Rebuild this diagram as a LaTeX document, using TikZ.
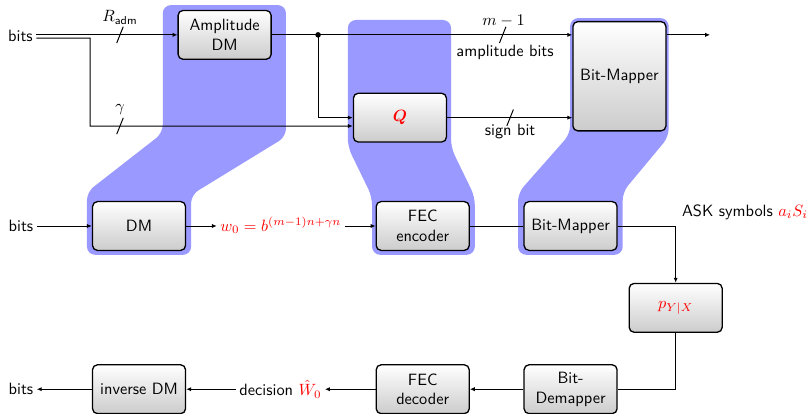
\documentclass[tikz,border=0pt]{standalone}
\usepackage{amsmath,amssymb}
\usepackage{bm}
\usepackage{tikz}
\usepackage{xcolor}
\usetikzlibrary{arrows.meta,positioning,calc}
\definecolor{lilac}{HTML}{9999FF}
\definecolor{boxgray}{HTML}{CCCCCC}
\definecolor{ink}{HTML}{000000}
\tikzset{
  block/.style={draw=ink,line width=0.8pt,rounded corners=3pt,
                top color=white,bottom color=boxgray,align=center,
                minimum width=2cm,minimum height=1.05cm,inner sep=2pt,
                font=\sffamily},
  tallblock/.style={block,minimum height=2.35cm},
  tag/.style={font=\sffamily,inner sep=2pt},
  sigarr/.style={-{Latex[length=3pt,width=2.6pt]},semithick,draw=ink},
  sigline/.style={semithick,draw=ink},
  groupfill/.style={fill=lilac,rounded corners=5pt},
  busmark/.pic={\draw[semithick,ink] (-2pt,-5pt) -- (2pt,5pt);}
}
\begin{document}
\begin{tikzpicture}
        \useasboundingbox (0,0) rectangle (17.44,8.90);
        \fill[groupfill] (3.50,8.79) -- (6.15,8.79) -- (6.15,5.96) -- (4.11,4.71)
          -- (4.11,3.42) -- (1.87,3.42) -- (1.87,4.77) -- (3.50,6.04) -- cycle;
        \fill[groupfill] (7.48,8.47) -- (9.70,8.47) -- (9.70,5.72) -- (10.21,4.67)
          -- (10.21,3.42) -- (8.00,3.42) -- (8.00,4.67) -- (7.48,5.74) -- cycle;
        \fill[groupfill] (12.26,8.51) -- (14.38,8.51) -- (14.38,5.96) -- (13.39,4.77)
          -- (13.39,3.42) -- (11.14,3.42) -- (11.14,4.75) -- (12.26,6.02) -- cycle;

        \node[block] (ampdm) at (4.83,8.15) {Amplitude\\DM};
        \node[block,text=red] (quant) at (8.60,6.37) {$\bm{Q}$};
        \node[tallblock] (maptop) at (13.32,7.26) {Bit-Mapper};
        \node[block] (dm) at (2.99,4.04) {DM};
        \node[block] (fecenc) at (9.09,4.04) {FEC\\encoder};
        \node[block] (mapbot) at (12.27,4.04) {Bit-Mapper};
        \node[block] (channel) at (14.53,2.28) {$\color{red}p_{Y|X}$};
        \node[block] (invdm) at (2.99,0.53) {inverse DM};
        \node[block] (fecdec) at (9.09,0.53) {FEC\\decoder};
        \node[block] (demap) at (12.27,0.53) {Bit-\\Demapper};

        \node[tag,anchor=east] (bitsin) at (0.78,8.12) {bits};
        \coordinate (split) at (1.94,8.08);
        \coordinate (branch) at (6.84,8.15);
        \coordinate (topout) at (15.27,8.15);
        \draw[sigarr] (bitsin.east |- ampdm.west) -- (ampdm.west);
        \draw[sigarr] ($(bitsin.east |- ampdm.west)+(0,-0.07)$) -- (split)
          |- ($(quant.west)+(0,-0.18)$);
        \draw[sigarr] (ampdm.east) -- (ampdm.east -| maptop.west);
        \draw[sigarr] (branch) |- (quant.west);
        \fill[ink] (branch) circle (1.7pt);
        \draw[sigarr] (quant.east) -- (quant.east -| maptop.west);
        \draw[sigarr] (maptop.east |- ampdm.east) -- (topout);

        \pic at (2.58,8.15) {busmark};
        \node[tag] (radm) at (2.58,8.52) {$R_{\textsf{adm}}$};
        \pic at (2.58,6.19) {busmark};
        \node[tag] (gammatag) at (2.58,6.54) {$\gamma$};
        \pic at (10.81,8.15) {busmark};
        \node[tag] (mtag) at (10.83,8.44) {$m-1$};
        \node[tag] (amptag) at (10.86,7.78) {amplitude bits};
        \pic at (10.97,6.37) {busmark};
        \node[tag] (signtag) at (10.97,6.08) {sign bit};

        \node[tag] (bitsmid) at (0.45,4.04) {bits};
        \node[tag,text=red] (wtag) at (6.04,4.06) {$w_0=b^{(m-1)n+\gamma n}$};
        \draw[sigarr] (bitsmid) -- (dm);
        \draw[sigarr] (dm.east) -- (dm.east -| wtag.west);
        \draw[sigarr] (wtag.east |- fecenc.west) -- (fecenc.west);
        \draw[sigline] (fecenc) -- (mapbot);
        \draw[sigarr] (mapbot.east) -| (channel.north);
        \node[tag,anchor=west] (asktag) at (14.59,4.34) {ASK symbols $\color{red}a_iS_i$};

        \draw[sigline] (channel.south) |- (demap.east);
        \draw[sigarr] (demap) -- (fecdec);
        \node[tag] (decision) at (6.03,0.53) {decision $\color{red}\hat{W}_0$};
        \draw[sigarr] (fecdec.west) -- (fecdec.west -| decision.east);
        \draw[sigarr] (decision.west |- invdm.east) -- (invdm.east);
        \node[tag] (bitsout) at (0.45,0.53) {bits};
        \draw[sigarr] (invdm) -- (bitsout);
      \end{tikzpicture}
\end{document}
